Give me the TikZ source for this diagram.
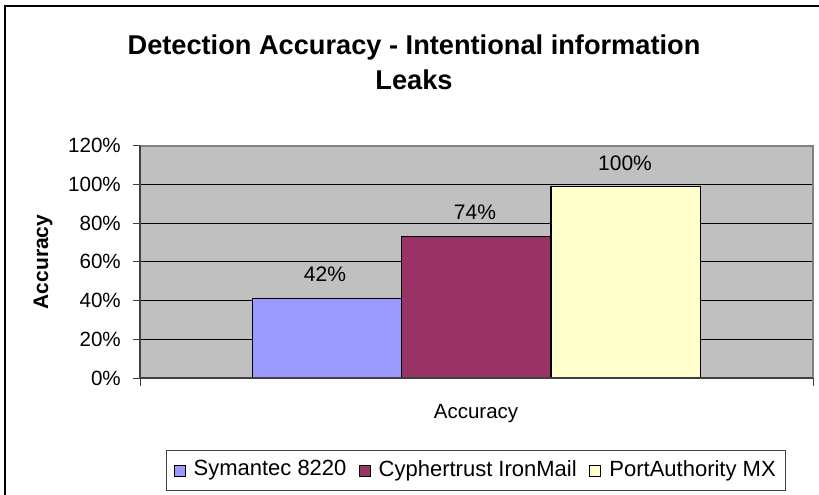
\documentclass[tikz,border=0pt]{standalone}
\usepackage{fontspec}
\setmainfont{Liberation Sans}
\definecolor{barblue}{HTML}{9999FF}
\definecolor{barmaroon}{HTML}{993366}
\definecolor{baryellow}{HTML}{FFFFCC}
\definecolor{plotgray}{HTML}{C0C0C0}
\definecolor{bordergray}{HTML}{808080}
\definecolor{axisgray}{HTML}{404040}
\tikzset{
  ticklbl/.style={anchor=east, inner sep=0pt, font=\fontsize{20.6}{24}\selectfont},
  datalbl/.style={inner sep=0pt, font=\fontsize{21}{24}\selectfont},
  titlelbl/.style={anchor=base, inner sep=0pt, font=\fontsize{27.2}{32}\selectfont\bfseries},
  barbox/.style={draw=black, line width=1.4pt},
  gridln/.style={black, line width=1pt},
  tickln/.style={axisgray, line width=1pt},
  legsq/.style={draw=black, line width=0.8pt, minimum size=11pt, inner sep=0pt},
  legtxt/.style={anchor=west, inner sep=0pt, font=\fontsize{22}{26}\selectfont},
}
\begin{document}
\begin{tikzpicture}[x=1pt,y=-1pt]
\useasboundingbox (0,0) rectangle (819,495);
% outer frame (only left and top visible)
\draw[line width=2.2pt, black] (4.6,496) -- (4.6,6) -- (820,6);
% title
\node[titlelbl] (title1) at (414,55) {Detection Accuracy - Intentional information};
\node[titlelbl] (title2) at (414,89) {Leaks};
% plot area
\fill[plotgray] (140,145.8) rectangle (813,378);
\foreach \yy in {184.5,223.2,261.9,300.6,339.3}
  \draw[gridln] (140,\yy) -- (813,\yy);
% bars
\draw[barbox, fill=barblue] (252.3,378) rectangle (401.7,298.3);
\draw[barbox, fill=barmaroon] (401.7,378) rectangle (551,236.7);
\draw[barbox, fill=baryellow] (551,378) rectangle (700.7,186.7);
% plot border
\draw[bordergray, line width=1.8pt] (140,145.8) -- (813,145.8) -- (813,378);
\draw[axisgray, line width=1.6pt] (140,378) -- (813,378);
\draw[axisgray, line width=1.2pt] (140,145.8) -- (140,378);
% ticks
\foreach \yy in {145.8,184.5,223.2,261.9,300.6,339.3,378}
  \draw[tickln] (133,\yy) -- (140,\yy);
\draw[tickln] (140,378) -- (140,386);
\draw[tickln] (813,378) -- (813,386);
% tick labels
\node[ticklbl] (l0) at (121,378) {0\%};
\node[ticklbl] (l20) at (121,339.3) {20\%};
\node[ticklbl] (l40) at (121,300.6) {40\%};
\node[ticklbl] (l60) at (121,261.9) {60\%};
\node[ticklbl] (l80) at (121,223.2) {80\%};
\node[ticklbl] (l100) at (121,184.5) {100\%};
\node[ticklbl] (l120) at (121,145.8) {120\%};
% axis titles
\node[rotate=90, inner sep=0pt, font=\fontsize{21}{24}\selectfont\bfseries] (ytitle) at (43,262) {Accuracy};
\node[anchor=base, inner sep=0pt, font=\fontsize{20.5}{24}\selectfont] (xtitle) at (476,418) {Accuracy};
% data labels
\node[datalbl] (d1) at (325,274.7) {42\%};
\node[datalbl] (d2) at (475,212) {74\%};
\node[datalbl] (d3) at (625,163) {100\%};
% legend
\draw[axisgray, line width=1pt, fill=white] (166,450.7) rectangle (785,490.7);
\node[legsq, fill=barblue] (s1) at (179.5,470.5) {};
\node[legtxt] (t1) at ([xshift=8pt]s1.east) {Symantec 8220};
\node[legsq, fill=barmaroon, anchor=west] (s2) at ([xshift=12pt]t1.east) {};
\node[legtxt] (t2) at ([xshift=8pt]s2.east) {Cyphertrust IronMail};
\node[legsq, fill=baryellow, anchor=west] (s3) at ([xshift=12pt]t2.east) {};
\node[legtxt] (t3) at ([xshift=8.5pt]s3.east) {PortAuthority MX};
\end{tikzpicture}
\end{document}
